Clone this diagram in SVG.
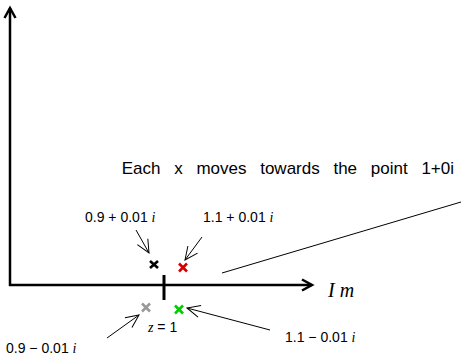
<svg xmlns="http://www.w3.org/2000/svg" width="461" height="360" viewBox="0 0 461 360">
<defs>
<marker id="thin" markerUnits="userSpaceOnUse" markerWidth="16" markerHeight="16" refX="14" refY="8" orient="auto">
<path d="M1,2 L14,8 L1,14" fill="none" stroke="#000" stroke-width="1"/>
</marker>
<marker id="thick" markerUnits="userSpaceOnUse" markerWidth="16" markerHeight="16" refX="12" refY="8" orient="auto">
<path d="M2,2.5 L12,8 L2,13.5" fill="none" stroke="#000" stroke-width="2.5"/>
</marker>
</defs>
<style>
.lbl{font-family:"Liberation Sans",Arial,sans-serif;font-size:14px;fill:#000}
.it{font-family:"Liberation Serif","Times New Roman",serif;font-style:italic}
.ax{stroke:#000;stroke-width:2.5;fill:none}
.ar{stroke:#000;stroke-width:1;fill:none}
.x{stroke-width:2.6;fill:none}
</style>
<g id="axes">
<line class="ax" x1="10" y1="286" x2="10" y2="8" marker-end="url(#thick)"/>
<line class="ax" x1="9" y1="285" x2="312" y2="285" marker-end="url(#thick)"/>
<line x1="164" y1="275" x2="164" y2="300" stroke="#000" stroke-width="3"/>
</g>
<g id="points">
<path class="x" stroke="#000" d="M150,261 L158,268 M158,261 L150,268"/>
<path class="x" stroke="#d40000" d="M179,263.5 L187,271.5 M187,263.5 L179,271.5"/>
<path class="x" stroke="#999" d="M142,303.5 L150,311.5 M150,303.5 L142,311.5"/>
<path class="x" stroke="#00cc00" d="M175,305.5 L183,313.5 M183,305.5 L175,313.5"/>
</g>
<g id="connectors">
<line class="ar" x1="136" y1="230" x2="149" y2="253" marker-end="url(#thin)"/>
<line class="ar" x1="202" y1="237" x2="185" y2="260" marker-end="url(#thin)"/>
<line class="ar" x1="107" y1="338" x2="139" y2="315" marker-end="url(#thin)"/>
<line class="ar" x1="270" y1="330" x2="187" y2="308" marker-end="url(#thin)"/>
<line class="ar" x1="222" y1="273" x2="461" y2="202"/>
</g>
<g id="labels">
<text class="lbl" x="85" y="222">0.9 + 0.01 <tspan class="it">i</tspan></text>
<text class="lbl" x="203" y="222">1.1 + 0.01 <tspan class="it">i</tspan></text>
<text class="lbl" x="6" y="353">0.9 − 0.01 <tspan class="it">i</tspan></text>
<text class="lbl" x="285" y="342">1.1 − 0.01 <tspan class="it">i</tspan></text>
<text class="lbl" x="148" y="332"><tspan class="it">z</tspan> = 1</text>
<text x="328" y="297" font-family="Liberation Serif,'Times New Roman',serif" font-style="italic" font-size="20">I m</text>
<text x="454" y="174" text-anchor="end" font-family="Liberation Sans,Arial,sans-serif" font-size="17" word-spacing="9">Each x moves towards the point 1+0i</text>
</g>
</svg>
